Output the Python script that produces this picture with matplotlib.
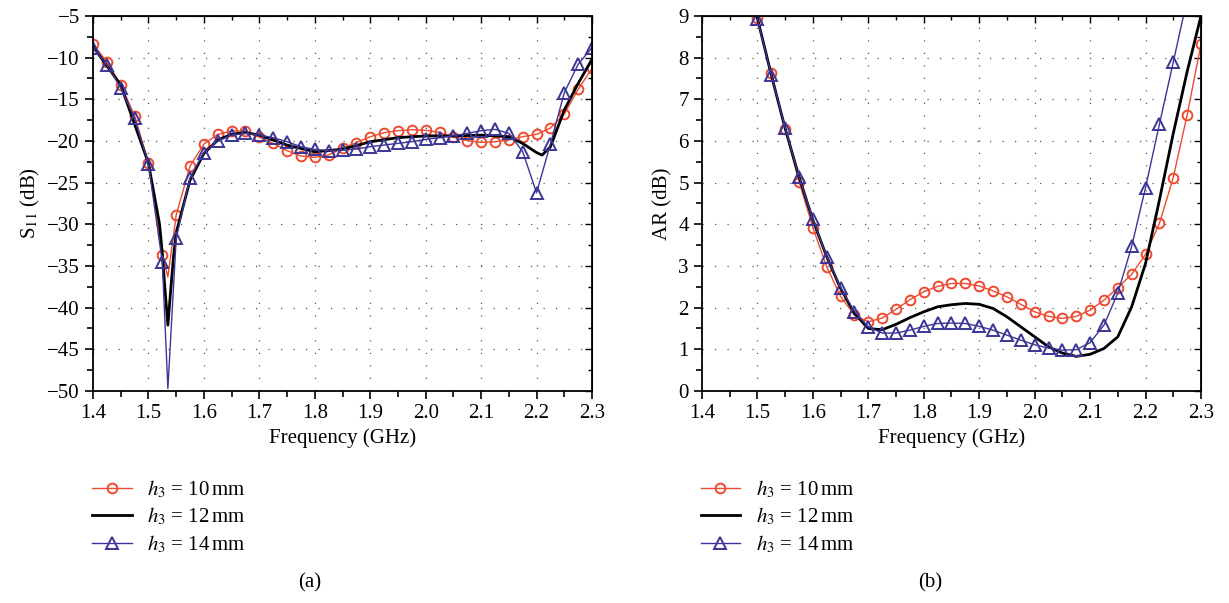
import matplotlib
matplotlib.use("Agg")
import matplotlib.pyplot as plt
from matplotlib.ticker import MultipleLocator

plt.rcParams['font.family'] = 'serif'
plt.rcParams['font.serif'] = ['Liberation Serif', 'DejaVu Serif']
plt.rcParams['mathtext.fontset'] = 'stix'

# ---- (a) S11 data ----
# marker grid 1.4..2.3 step 0.025, plus the sharp minimum at 1.535
f_s11 = [1.400, 1.425, 1.450, 1.475, 1.500, 1.525, 1.535, 1.550, 1.575, 1.600,
         1.625, 1.650, 1.675, 1.700, 1.725, 1.750, 1.775, 1.800, 1.825, 1.850,
         1.875, 1.900, 1.925, 1.950, 1.975, 2.000, 2.025, 2.050, 2.075, 2.100,
         2.125, 2.150, 2.175, 2.200, 2.225, 2.250, 2.275, 2.300]
s11_h10 = [-8.40, -10.52, -13.25, -16.97, -22.61, -33.7, -36.3, -28.9, -23.0, -20.37,
           -19.21, -18.81, -18.81, -19.57, -20.29, -21.17, -21.81, -21.97, -21.69, -20.85,
           -20.21, -19.49, -19.01, -18.77, -18.65, -18.73, -18.97, -19.57, -19.97, -20.17,
           -20.09, -19.89, -19.49, -19.21, -18.45, -16.77, -13.81, -11.28]
s11_h14 = [-8.80, -10.92, -13.61, -17.29, -22.77, -34.58, -49.7, -31.70, -24.42, -21.41,
           -20.01, -19.29, -19.09, -19.29, -19.61, -20.09, -20.69, -21.01, -21.17, -21.09,
           -20.97, -20.69, -20.49, -20.29, -20.09, -19.81, -19.61, -19.37, -19.09, -18.77,
           -18.61, -19.09, -21.29, -26.22, -20.37, -14.21, -10.80, -8.80]

f_s11_h12 = [1.400, 1.450, 1.500, 1.520, 1.525, 1.530, 1.535, 1.540, 1.545, 1.550,
             1.575, 1.600, 1.625, 1.650, 1.675, 1.700, 1.750, 1.800, 1.850, 1.900,
             1.950, 2.000, 2.050, 2.100, 2.150, 2.175, 2.200, 2.210, 2.225, 2.250,
             2.275, 2.300]
s11_h12 = [-8.68, -13.3, -22.7, -30.0, -33.5, -38.0, -42.1, -38.0, -34.0, -31.0,
           -24.7, -21.5, -19.9, -19.2, -19.0, -19.3, -20.5, -21.3, -21.0, -20.1,
           -19.6, -19.4, -19.4, -19.3, -19.5, -20.3, -21.4, -21.7, -20.7, -16.3,
           -13.1, -10.2]

# ---- (b) AR data ----
f_ar = [1.500, 1.525, 1.550, 1.575, 1.600, 1.625, 1.650, 1.675, 1.700, 1.725,
        1.750, 1.775, 1.800, 1.825, 1.850, 1.875, 1.900, 1.925, 1.950, 1.975,
        2.000, 2.025, 2.050, 2.075, 2.100, 2.125, 2.150, 2.175, 2.200, 2.225,
        2.250, 2.275, 2.300]
ar_h10 = [8.95, 7.64, 6.28, 5.02, 3.92, 2.98, 2.27, 1.82, 1.66, 1.75,
          1.96, 2.19, 2.38, 2.51, 2.58, 2.58, 2.52, 2.40, 2.26, 2.08,
          1.90, 1.79, 1.74, 1.79, 1.94, 2.18, 2.48, 2.80, 3.28, 4.02,
          5.12, 6.62, 8.32]
ar_h12 = [8.94, 7.58, 6.30, 5.14, 4.10, 3.22, 2.46, 1.86, 1.50, 1.47,
          1.60, 1.76, 1.90, 2.02, 2.07, 2.10, 2.08, 1.98, 1.78, 1.54,
          1.30, 1.06, 0.91, 0.83, 0.88, 1.02, 1.30, 2.02, 3.06, 4.58,
          6.18, 7.66, 9.00]
ar_h14 = [8.92, 7.58, 6.32, 5.14, 4.12, 3.22, 2.48, 1.90, 1.54, 1.39,
          1.39, 1.46, 1.55, 1.62, 1.63, 1.62, 1.55, 1.46, 1.34, 1.22,
          1.11, 1.03, 0.98, 0.99, 1.16, 1.58, 2.35, 3.47, 4.88, 6.40,
          7.89, 9.40, 10.9]

labels = [r'$h_3$ = 10$\,$mm', r'$h_3$ = 12$\,$mm', r'$h_3$ = 14$\,$mm']
red = '#ef4a2f'
blue = '#3b3595'
fs = 15

fig = plt.figure(figsize=(12.29, 6.03), dpi=100)
ax1 = fig.add_axes([0.0757, 0.3516, 0.406, 0.622])
ax2 = fig.add_axes([0.5712, 0.3516, 0.406, 0.622])

mk = dict(markerfacecolor='none', markeredgewidth=1.4, lw=1.0)
idx = [i for i in range(len(f_s11)) if i != 6]
ax1.plot(f_s11, s11_h10, color=red, marker='o', ms=7, markevery=idx, label=labels[0], **mk)
ax1.plot(f_s11_h12, s11_h12, color='black', lw=2.0, label=labels[1])
ax1.plot(f_s11, s11_h14, color=blue, marker='^', ms=8, markevery=idx, label=labels[2], **mk)

ax2.plot(f_ar, ar_h10, color=red, marker='o', ms=7, label=labels[0], **mk)
ax2.plot(f_ar, ar_h12, color='black', lw=2.0, label=labels[1])
ax2.plot(f_ar, ar_h14, color=blue, marker='^', ms=8, label=labels[2], **mk)

ax1.set_ylim(-50, -5)
ax1.yaxis.set_major_locator(MultipleLocator(5))
ax1.yaxis.set_minor_locator(MultipleLocator(2.5))
ax1.set_ylabel(r'S$_{11}$ (dB)', fontsize=fs)

ax2.set_ylim(0, 9)
ax2.yaxis.set_major_locator(MultipleLocator(1))
ax2.yaxis.set_minor_locator(MultipleLocator(0.5))
ax2.set_ylabel('AR (dB)', fontsize=fs)

for ax in (ax1, ax2):
    ax.set_xlim(1.4, 2.3)
    ax.xaxis.set_major_locator(MultipleLocator(0.1))
    ax.xaxis.set_minor_locator(MultipleLocator(0.05))
    ax.set_xlabel('Frequency (GHz)', fontsize=fs)
    ax.grid(True, which='major', color='#555555', lw=0.9, linestyle=(0, (1, 9)))
    ax.tick_params(which='both', direction='out', labelsize=fs, width=1.2,
                   top=False, right=False)
    ax.tick_params(which='major', length=6)
    ax.tick_params(which='minor', length=4)
    for s in ax.spines.values():
        s.set_linewidth(1.3)
    # inward ticks on top and right
    sec_x = ax.secondary_xaxis('top')
    sec_x.xaxis.set_major_locator(MultipleLocator(0.1))
    sec_x.xaxis.set_minor_locator(MultipleLocator(0.05))
    sec_x.tick_params(which='both', direction='in', labeltop=False, width=1.0)
    sec_x.tick_params(which='major', length=5)
    sec_x.tick_params(which='minor', length=3)
    sec_y = ax.secondary_yaxis('right')
    sec_y.yaxis.set_major_locator(ax.yaxis.get_major_locator())
    sec_y.yaxis.set_minor_locator(ax.yaxis.get_minor_locator())
    sec_y.tick_params(which='both', direction='in', labelright=False, width=1.0)
    sec_y.tick_params(which='major', length=5)
    sec_y.tick_params(which='minor', length=3)

for ax, x0 in ((ax1, 0.075), (ax2, 0.570)):
    ax.legend(loc='upper left', bbox_to_anchor=(x0, 0.207), bbox_transform=fig.transFigure,
              frameon=False, fontsize=fs, handlelength=1.9, handletextpad=0.75,
              labelspacing=0.28, borderpad=0, borderaxespad=0)

fig.text(310 / 1229, 1 - 583 / 603, '(a)', ha='center', va='center', fontsize=fs)
fig.text(930 / 1229, 1 - 583 / 603, '(b)', ha='center', va='center', fontsize=fs)

fig.savefig('out.png', dpi=100)
